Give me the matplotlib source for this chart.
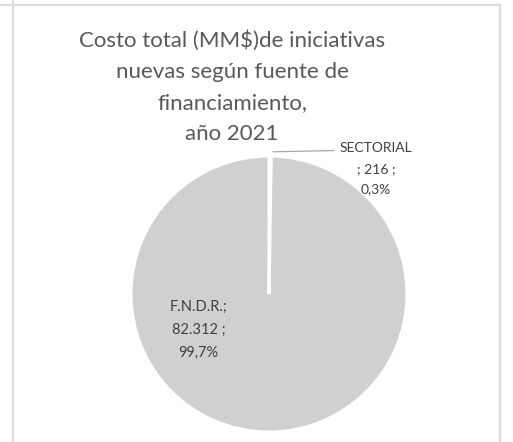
import numpy as np
from matplotlib import pyplot as plt
from matplotlib.lines import Line2D

# datos
categorias = ["SECTORIAL", "F.N.D.R."]
costos = [216, 82312]
etiquetas = ["SECTORIAL\n; 216 ;\n0,3%", "F.N.D.R.;\n82.312 ;\n99,7%"]

plt.rcParams['font.family'] = ['Lato', 'DejaVu Sans']

W, H = 513, 442
fig = plt.figure(figsize=(W / 100, H / 100), dpi=100)

# marco gris claro
borde = '#dcdcdc'
fig.add_artist(Line2D([13 / W, 13 / W], [0, 1], color=borde, lw=1.6))
fig.add_artist(Line2D([0, 500 / W], [1 - 5 / H, 1 - 5 / H], color=borde, lw=1.6))
fig.add_artist(Line2D([500 / W, 500 / W], [0, 1 - 5 / H], color=borde, lw=1.6))

# torta
cx, cy, r = 269, 294, 138
ax = fig.add_axes([(cx - r) / W, (H - cy - r) / H, 2 * r / W, 2 * r / H])
wedges, _ = ax.pie(costos, startangle=90, counterclock=False,
                   colors=['#d0d0d0', '#d0d0d0'],
                   wedgeprops=dict(edgecolor='white', linewidth=2.2))
ax.set_xlim(-1, 1)
ax.set_ylim(-1, 1)
ax.set_aspect('equal')
ax.axis('off')

# etiqueta SECTORIAL con linea guia
w0 = wedges[0]
ang = np.deg2rad((w0.theta1 + w0.theta2) / 2)
ax.annotate('', xy=(np.cos(ang), np.sin(ang) + 0.03), xytext=(0.49, 1.04),
            arrowprops=dict(arrowstyle='-', color='#a6a6a6', lw=0.9),
            annotation_clip=False)
ax.text(0.775, 1.10, etiquetas[0], ha='center', va='top', fontsize=10,
        color='#404040', linespacing=1.85, clip_on=False)
ax.text(-0.51, -0.26, etiquetas[1], ha='center', va='center', fontsize=10.5,
        color='#404040', linespacing=1.8)

# titulo
fig.text(232 / W, 1 - 30 / H,
         "Costo total (MM$)de iniciativas\nnuevas según fuente de\nfinanciamiento,\naño 2021",
         ha='center', va='top', fontsize=16, color='#595959', linespacing=1.7)

fig.savefig('out.png', dpi=100)
